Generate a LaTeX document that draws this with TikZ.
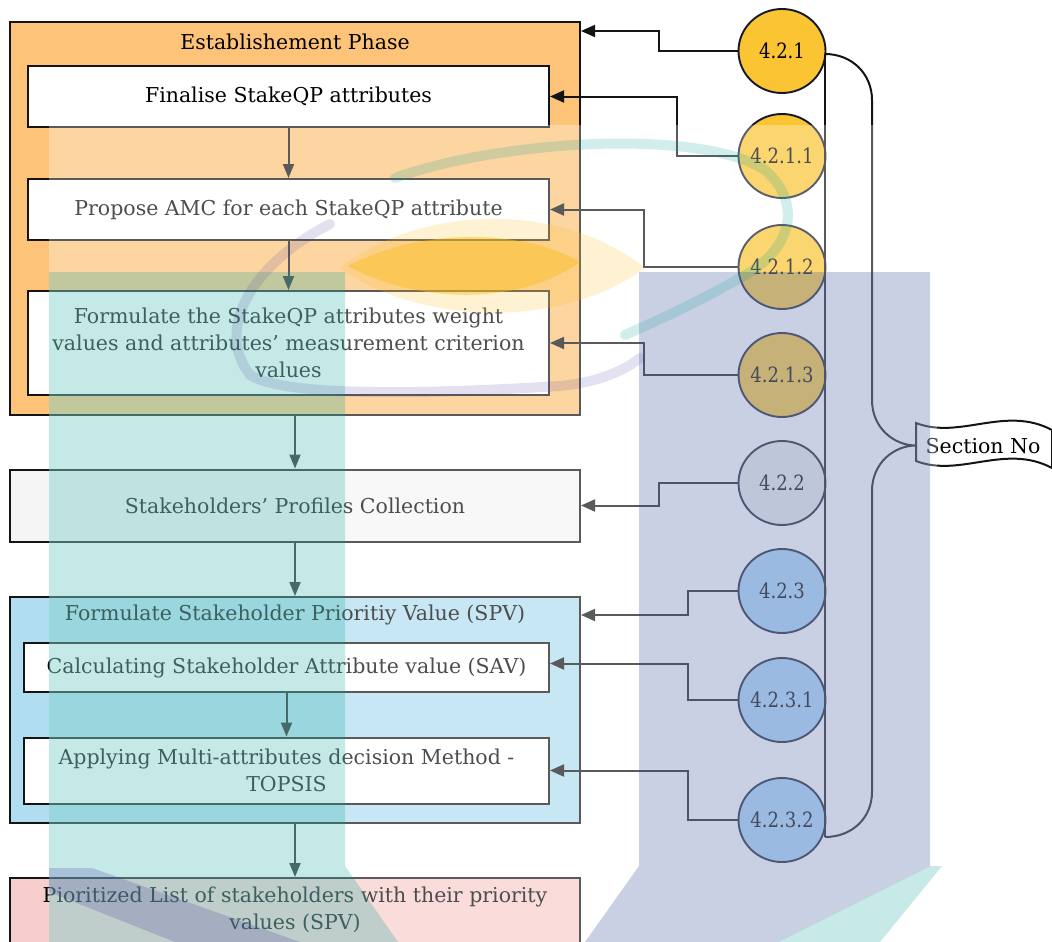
\documentclass[tikz,border=0pt]{standalone}
\usepackage{fontspec}
\setmainfont{DejaVu Serif}
\newfontfamily\numfont{DejaVu Serif}[FakeStretch=0.86]
\usetikzlibrary{arrows.meta,shapes.geometric}

\definecolor{estfill}{RGB}{253,195,120}
\definecolor{proffill}{RGB}{245,245,245}
\definecolor{spvfill}{RGB}{177,221,240}
\definecolor{priofill}{RGB}{248,206,204}
\definecolor{secyellow}{RGB}{250,196,50}
\definecolor{secgray}{RGB}{236,236,236}
\definecolor{secblue}{RGB}{168,214,250}
\definecolor{inkdark}{RGB}{20,20,20}
\definecolor{ringnavy}{RGB}{20,24,44}
\definecolor{wmteal}{RGB}{0,160,150}
\definecolor{wmblue}{RGB}{40,70,150}
\definecolor{wmpurple}{RGB}{70,60,160}
\definecolor{wmyellow}{RGB}{250,190,30}

\begin{document}
\begin{tikzpicture}[x=1pt,y=-1pt,
  font=\fontsize{20.5}{27}\selectfont,
  box/.style={draw=inkdark, line width=2pt, rectangle, inner sep=0pt, align=center},
  flow/.style={draw=inkdark, line width=2pt, -{Triangle[length=14pt,width=11pt]}},
  link/.style={draw=inkdark, line width=2pt, -{Triangle[length=14pt,width=12pt]}},
  sec/.style={ellipse, draw=ringnavy, line width=1.9pt, minimum width=87pt, minimum height=84pt,
    inner xsep=-12pt, inner ysep=0pt, font=\numfont\fontsize{21}{25}\selectfont},
  brace/.style={draw=inkdark, line width=2pt}
]
\useasboundingbox (0,0) rectangle (1052,942);

% ---------- process boxes ----------
\node[box, fill=estfill, minimum width=570pt, minimum height=393pt] (est) at (295,218.5) {};
\node (esttitle) at (295,42) {Establishement Phase};
\node[box, fill=white, minimum width=521pt, minimum height=61pt] (fin) at (288.5,96.5) {Finalise StakeQP attributes};
\node[box, fill=white, minimum width=521pt, minimum height=61pt] (prop) at (288.5,209.5) {Propose AMC for each StakeQP attribute};
\node[box, fill=white, minimum width=521pt, minimum height=104pt] (form) at (288.5,343)
  {Formulate the StakeQP attributes weight\\values and attributes' measurement criterion\\values};

\node[box, fill=proffill, minimum width=570pt, minimum height=72pt] (prof) at (295,505.5) {Stakeholders' Profiles Collection};

\node[box, fill=spvfill, minimum width=570pt, minimum height=226pt] (spv) at (295,710) {};
\node (spvtitle) at (295,615) {Formulate Stakeholder Prioritiy Value (SPV)};
\node[box, fill=white, minimum width=525pt, minimum height=49pt] (calc) at (286.5,667.5) {Calculating Stakeholder Attribute value (SAV)};
\node[box, fill=white, minimum width=525pt, minimum height=66pt] (apply) at (286.5,770.5)
  {Applying Multi-attributes decision Method -\\TOPSIS};

\node[box, fill=priofill, minimum width=570pt, minimum height=90pt] (prio) at (295,923) {};
\node[align=center] (priotext) at (295,910) {Pioritized List of stakeholders with their priority\\values (SPV)};

% ---------- flow arrows ----------
\draw[flow] (fin.south) -- (prop.north);
\draw[flow] (prop.south) -- (form.north);
\draw[flow] (est.south) -- (prof.north);
\draw[flow] (prof.south) -- (spv.north);
\draw[flow] (calc.south) -- (apply.north);
\draw[flow] (spv.south) -- (prio.north);

% ---------- section numbers ----------
\node[sec, fill=secyellow] (c421)  at (782,51)  {4.2.1};
\node[sec, fill=secyellow] (c4211) at (782,156) {4.2.1.1};
\node[sec, fill=secyellow] (c4212) at (782,267) {4.2.1.2};
\node[sec, fill=secyellow] (c4213) at (782,375) {4.2.1.3};
\node[sec, fill=secgray]   (c422)  at (782,483) {4.2.2};
\node[sec, fill=secblue]   (c423)  at (782,591) {4.2.3};
\node[sec, fill=secblue]   (c4231) at (782,700) {4.2.3.1};
\node[sec, fill=secblue]   (c4232) at (782,820) {4.2.3.2};

\draw[link] (c421.west)  -- ++(-79,0) |- ([yshift=-10pt]est.north east);
\draw[link] (c4211.west) -- ++(-61,0) |- (fin.east);
\draw[link] (c4212.west) -- ++(-94,0) |- (prop.east);
\draw[link] (c4213.west) -- ++(-94,0) |- (form.east);
\draw[link] (c422.west)  -- ++(-79,0) |- (prof.east);
\draw[link] (c423.west)  -- ++(-50,0) |- ([yshift=-19pt]spv.north east);
\draw[link] (c4231.west) -- ++(-50,0) |- ([yshift=4pt]calc.east);
\draw[link] (c4232.west) -- ++(-50,0) |- (apply.east);

% ---------- bracket grouping the section numbers ----------
\coordinate (btop) at (825,54);
\coordinate (bbot) at (825,837);
\coordinate (btip) at (916,445.5);
\draw[brace] (btop) -- (bbot);
\draw[brace] (btop) .. controls (852,54) and (872,74) .. (872,100)
  -- (872,400) .. controls (872,428) and (894,445.5) .. (btip)
  .. controls (894,445.5) and (872,463) .. (872,491)
  -- (872,792) .. controls (872,818) and (852,837) .. (bbot);

% ---------- label tape ----------
\draw[brace, fill=white] (916,423) .. controls (960,440) and (1005,405) .. (1052,430)
  -- (1052,468) .. controls (1005,443) and (960,478) .. (916,461) -- cycle;
\node (secno) at (983,446) {Section No};

% ---------- emblem printed over the page ----------
\fill[white, fill opacity=0.3] (49,125) rectangle (937,942);
\fill[wmteal, fill opacity=0.23] (49,272) -- (345,272) -- (345,866) -- (398,942) -- (49,942) -- cycle;
\fill[wmblue, fill opacity=0.25] (639,272) -- (930,272) -- (930,866) -- (778,942) -- (585,942) -- (639,866) -- cycle;
\fill[wmteal, fill opacity=0.22] (930,866) -- (942,866) -- (880,942) -- (778,942) -- cycle;
\fill[wmpurple, fill opacity=0.22] (49,868) -- (92,868) -- (300,942) -- (175,942) -- (49,892) -- cycle;
% yellow swoosh
\fill[wmyellow, fill opacity=0.2] (340,268) .. controls (420,205) and (560,200) .. (645,268)
  .. controls (560,330) and (420,325) .. cycle;
\fill[wmyellow, fill opacity=0.45] (348,266) .. controls (420,228) and (520,228) .. (580,262)
  .. controls (520,305) and (420,305) .. cycle;
% teal ring
\draw[wmteal, draw opacity=0.18, line width=10pt, line cap=round]
  (395,178) .. controls (500,140) and (700,128) .. (765,170)
  .. controls (805,205) and (790,252) .. (740,278) .. controls (705,298) and (670,315) .. (625,335);
% violet ring
\draw[wmpurple, draw opacity=0.15, line width=10pt, line cap=round]
  (330,224) .. controls (250,265) and (215,330) .. (250,375)
  .. controls (290,400) and (460,392) .. (560,386) .. controls (600,382) and (625,370) .. (640,358);
\end{tikzpicture}
\end{document}
